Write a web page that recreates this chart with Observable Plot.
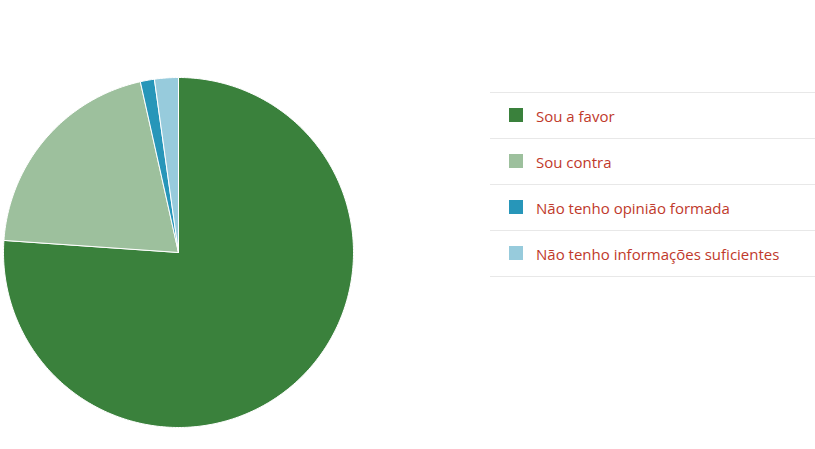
<!DOCTYPE html>
<html>
<head>
<meta charset="utf-8">
<script src="https://cdn.jsdelivr.net/npm/d3@7"></script>
<script src="https://cdn.jsdelivr.net/npm/@observablehq/plot@0.6"></script>
<style>
  html, body { margin: 0; padding: 0; background: #fff; }
  #wrap { position: relative; width: 815px; height: 449px; overflow: hidden; }
  #legend { position: absolute; left: 490px; top: 92px; width: 325px;
    font-family: "Open Sans", sans-serif; font-size: 15px; color: #c0392b; }
  .row { height: 45px; border-top: 1px solid #e8e8e8; position: relative; }
  .row:last-child { border-bottom: 1px solid #e8e8e8; }
  .sw { position: absolute; left: 19px; top: 15px; width: 14px; height: 14px; }
  .lb { position: absolute; left: 46px; top: 13px; line-height: 20px; white-space: nowrap; }
</style>
</head>
<body>
<div id="wrap"><div id="legend"></div></div>
<script>
const categories = ["Sou a favor", "Sou contra", "Não tenho opinião formada", "Não tenho informações suficientes"];
const values = [76.1, 20.4, 1.3, 2.2];
const colors = ["#3a813c", "#9dc09d", "#2796b9", "#97cbdc"];

const total = d3.sum(values);
const pts = [];
let acc = 0;
categories.forEach((c, i) => {
  const a0 = acc / total * 2 * Math.PI;
  acc += values[i];
  const a1 = acc / total * 2 * Math.PI;
  const n = Math.max(4, Math.ceil((a1 - a0) / (Math.PI / 180)));
  pts.push({cat: c, x: 0, y: 0});
  for (let k = 0; k <= n; k++) {
    const a = a0 + (a1 - a0) * k / n;
    pts.push({cat: c, x: Math.sin(a), y: Math.cos(a)});
  }
  pts.push({cat: c, x: 0, y: 0});
});

const chart = Plot.plot({
  width: 815,
  height: 449,
  margin: 0,
  x: {domain: [-1, 1], range: [3, 353], axis: null},
  y: {domain: [-1, 1], range: [427, 77], axis: null},
  color: {domain: categories, range: colors},
  marks: [
    Plot.line(pts, {x: "x", y: "y", z: "cat", fill: "cat", stroke: "#fff", strokeWidth: 1, strokeLinejoin: "round", curve: "linear"})
  ]
});
const wrap = document.getElementById("wrap");
wrap.insertBefore(chart, wrap.firstChild);

const legend = document.getElementById("legend");
categories.forEach((c, i) => {
  const row = document.createElement("div");
  row.className = "row";
  row.innerHTML = `<div class="sw" style="background:${colors[i]}"></div><div class="lb">${c}</div>`;
  legend.appendChild(row);
});
</script>
</body>
</html>
